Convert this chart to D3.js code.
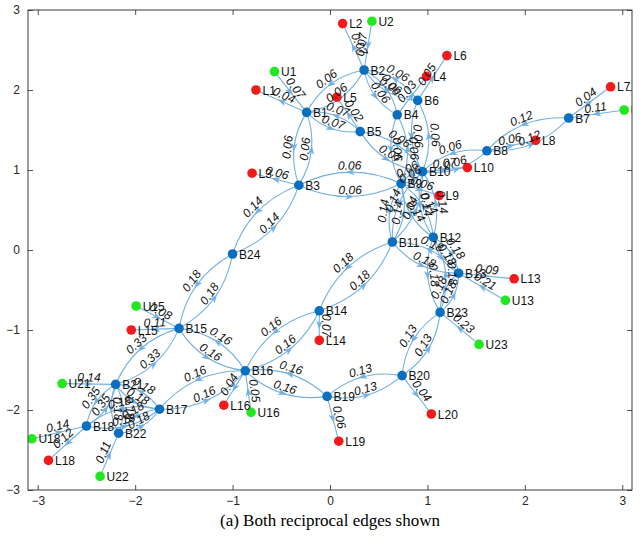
<!DOCTYPE html>
<html><head><meta charset="utf-8">
<script src="https://cdn.jsdelivr.net/npm/d3@7"></script>
<style>body{margin:0;background:#fff}</style>
</head><body><svg id="c" width="640" height="550"></svg>
<script>
const nodeNames = ["B1","B2","B3","B4","B5","B6","B7","B8","B9","B10","B11","B12","B13","B14","B15","B16","B17","B18","B19","B20","B21","B22","B23","B24",
  "L1","L2","L3","L4","L5","L6","L7","L8","L9","L10","L13","L14","L15","L16","L18","L19","L20",
  "U1","U2","U7","U13","U15","U16","U18","U21","U22","U23"];
const nodeX = [-0.24,0.35,-0.32,0.69,0.31,0.90,2.45,1.61,0.73,0.95,0.64,1.06,1.32,-0.11,-1.55,-0.87,-1.75,-2.50,-0.03,0.74,-2.20,-2.17,1.13,-1.00,
  -0.76,0.13,-0.80,0.99,0.07,1.20,2.88,2.11,1.12,1.41,1.89,-0.11,-2.04,-1.09,-2.89,0.09,1.04,
  -0.57,0.43,3.02,1.80,-1.99,-0.81,-3.06,-2.75,-2.36,1.53];
const nodeY = [1.72,2.25,0.81,1.69,1.48,1.87,1.65,1.24,0.83,0.98,0.10,0.16,-0.29,-0.76,-0.98,-1.51,-1.99,-2.20,-1.83,-1.57,-1.68,-2.29,-0.78,-0.05,
  2.00,2.83,0.96,2.17,1.91,2.43,2.04,1.37,0.68,1.03,-0.36,-1.13,-1.00,-1.94,-2.63,-2.39,-2.05,
  2.23,2.86,1.75,-0.63,-0.70,-2.03,-2.36,-1.67,-2.83,-1.18];

// reciprocal bus-bus pairs: a, b, weight a->b, weight b->a
const pairA = ["B1","B2","B2","B1","B1","B3","B3","B24","B4","B5","B6","B10","B8","B9","B9","B10","B9","B10","B11","B11","B12","B12","B13","B23","B20","B19","B16","B15","B16","B15","B21","B21","B18","B17","B21"];
const pairB = ["B2","B4","B6","B5","B3","B9","B24","B15","B9","B10","B10","B8","B7","B10","B11","B11","B12","B12","B14","B13","B13","B23","B23","B20","B19","B16","B14","B16","B17","B21","B18","B22","B17","B22","B17"];
const pairWab = [0.06,0.06,0.06,0.07,0.06,0.06,0.14,0.18,0.06,0.07,0.06,0.06,0.12,0.06,0.14,0.14,0.14,0.14,0.18,0.18,0.18,0.18,0.18,0.13,0.13,0.16,0.16,0.16,0.16,0.33,0.35,0.18,0.18,0.18,0.18];
const pairWba = [0.06,0.06,0.06,0.07,0.06,0.06,0.14,0.18,0.06,0.06,0.06,0.06,0.12,0.06,0.14,0.04,0.14,0.14,0.18,0.18,0.18,0.18,0.18,0.13,0.13,0.16,0.16,0.16,0.16,0.33,0.35,0.18,0.18,0.18,0.18];

// single edges to loads (L) and generators (U)
const leafSource = ["B1","U1","B2","U2","B3","B4","B5","B6","B7","U7","B8","B9","B10","B13","U13","B14","B15","U15","B16","U16","B18","U18","B19","B20","U21","U22","U23"];
const leafTarget = ["L1","B1","L2","B2","L3","L4","L5","L6","L7","B7","L8","L9","L10","L13","B13","L14","L15","B15","L16","B16","L18","B18","L19","L20","B21","B22","B23"];
const leafWeight = [0.04,0.07,0.07,0.07,0.06,0.03,0.02,0.05,0.04,0.11,0.06,0.06,0.07,0.09,0.21,0.07,0.11,0.08,0.04,0.05,0.12,0.14,0.06,0.04,0.14,0.11,0.23];

const xTicks = [-3,-2,-1,0,1,2,3];
const yTicks = [-3,-2,-1,0,1,2,3];
const caption = "(a) Both reciprocal edges shown";

const svg = d3.select("#c");
const x = d3.scaleLinear().domain([-3.1,3.1]).range([28,632]);
const y = d3.scaleLinear().domain([-3,3]).range([490,10]);
const axisCol = "#262626";
const edgeCol = "#72b1e2";

const nodes = nodeNames.map((n,i)=>({name:n, x:nodeX[i], y:nodeY[i], type:n[0]}));
const byName = new Map(nodes.map(n=>[n.name,n]));

const edges = [];
pairA.forEach((a,i)=>{
  edges.push({s:a, t:pairB[i], w:pairWab[i], curved:true});
  edges.push({s:pairB[i], t:a, w:pairWba[i], curved:true});
});
leafSource.forEach((s,i)=>edges.push({s:s, t:leafTarget[i], w:leafWeight[i], curved:false}));

edges.forEach(e=>{
  const a = byName.get(e.s), b = byName.get(e.t);
  const x0=x(a.x), y0=y(a.y), x1=x(b.x), y1=y(b.y);
  const dx=x1-x0, dy=y1-y0;
  const k = e.curved ? 0.24 : 0;
  const cx=(x0+x1)/2 + (-dy)*k, cy=(y0+y1)/2 + dx*k;
  e.x0=x0; e.y0=y0; e.x1=x1; e.y1=y1; e.cx=cx; e.cy=cy;
  e.mx = 0.25*x0+0.5*cx+0.25*x1;
  e.my = 0.25*y0+0.5*cy+0.25*y1;
  e.ang = Math.atan2(dy,dx)*180/Math.PI;
});

svg.append("defs").append("clipPath").attr("id","pc").append("rect")
  .attr("x",28).attr("y",10).attr("width",604).attr("height",480);
const g = svg.append("g").attr("clip-path","url(#pc)");

g.selectAll("path.edge").data(edges).enter().append("path")
  .attr("d",e=>`M${e.x0},${e.y0}Q${e.cx},${e.cy} ${e.x1},${e.y1}`)
  .attr("fill","none").attr("stroke",edgeCol).attr("stroke-width",1.1);

g.selectAll("path.arrow").data(edges).enter().append("path")
  .attr("d","M4,0L-5,-3.3L-2.5,0L-5,3.3Z")
  .attr("fill",edgeCol)
  .attr("transform",e=>`translate(${e.mx},${e.my}) rotate(${e.ang})`);

g.selectAll("circle.node").data(nodes).enter().append("circle")
  .attr("cx",d=>x(d.x)).attr("cy",d=>y(d.y)).attr("r",4.8)
  .attr("fill",d=>d.type==="B"?"#0a6fbf":(d.type==="L"?"#f21a1a":"#1fe81f"));

g.selectAll("text.nl").data(nodes).enter().append("text")
  .attr("x",d=>x(d.x)+6.5).attr("y",d=>y(d.y)+4.5)
  .attr("font-family","Liberation Sans, Arial, sans-serif").attr("font-size",12)
  .attr("fill","#111").text(d=>d.name);

g.selectAll("text.el").data(edges).enter().append("text")
  .attr("transform",e=>{let a=e.ang; if(a>90)a-=180; if(a<-90)a+=180; return `translate(${e.mx},${e.my}) rotate(${a})`;})
  .attr("y",-2.5).attr("text-anchor","middle")
  .attr("font-family","Liberation Sans, Arial, sans-serif").attr("font-size",12).attr("font-style","italic")
  .attr("fill","#111").text(e=>e.w.toFixed(2));

const fmt = d3.format("d");
const ax = svg.append("g");
const axB = ax.append("g").attr("transform","translate(0,490)")
  .call(d3.axisBottom(x).tickValues(xTicks).tickFormat(fmt).tickSizeInner(-5).tickSizeOuter(0).tickPadding(6));
const axT = ax.append("g").attr("transform","translate(0,10)")
  .call(d3.axisTop(x).tickValues(xTicks).tickFormat("").tickSizeInner(-5).tickSizeOuter(0));
const axL = ax.append("g").attr("transform","translate(28,0)")
  .call(d3.axisLeft(y).tickValues(yTicks).tickFormat(fmt).tickSizeInner(-5).tickSizeOuter(0).tickPadding(8));
const axR = ax.append("g").attr("transform","translate(632,0)")
  .call(d3.axisRight(y).tickValues(yTicks).tickFormat("").tickSizeInner(-5).tickSizeOuter(0));
[axB,axT,axL,axR].forEach(a=>{
  a.selectAll(".domain").remove();
  a.selectAll("line").attr("stroke",axisCol).attr("stroke-width",0.8);
  a.selectAll("text").attr("fill",axisCol).attr("font-size",12).attr("font-family","Liberation Sans, Arial, sans-serif");
});
svg.append("rect").attr("x",28).attr("y",10).attr("width",604).attr("height",480)
  .attr("fill","none").attr("stroke",axisCol).attr("stroke-width",0.9);

svg.append("text").attr("x",330).attr("y",526).attr("text-anchor","middle")
  .attr("font-family","Liberation Serif, Times New Roman, serif").attr("font-size",17)
  .attr("fill","#000").text(caption);
</script></body></html>
